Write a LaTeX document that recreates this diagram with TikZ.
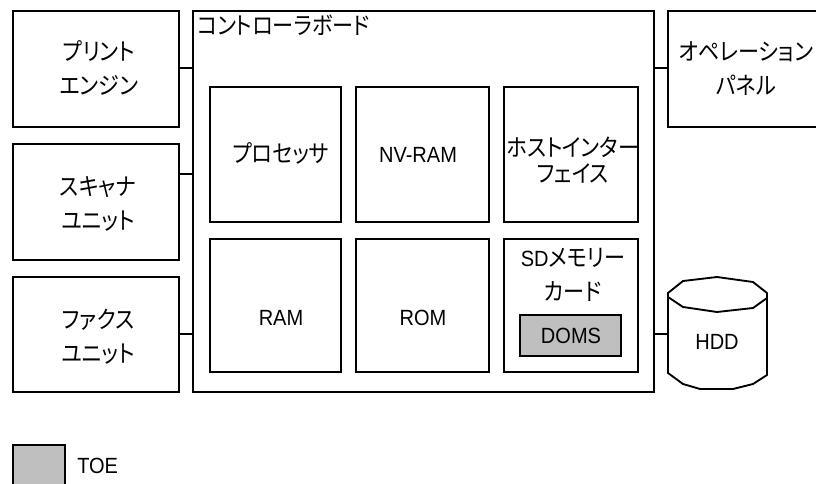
\documentclass[tikz,border=0pt]{standalone}
\usepackage{fontspec}
\setmainfont[FakeStretch=0.91]{Liberation Sans}
\newfontfamily\jpf[RawFeature=+palt,FakeStretch=0.88]{Noto Sans CJK JP}
\newcommand\jp{\jpf\fontsize{18}{25.5}\selectfont}
\begin{document}
\begin{tikzpicture}[x=0.75pt,y=-0.75pt,
  box/.style={draw,line width=1.4pt,inner sep=0pt},
  link/.style={line width=1.2pt},
  lbl/.style={inner sep=0pt,align=center,font=\fontsize{16.5}{25.5}\selectfont},
  lbltight/.style={inner sep=0pt,align=center,font=\fontsize{16.5}{19}\selectfont}]
\useasboundingbox (0,0) rectangle (816,484);
% left boxes
\node[box,minimum width=124.5pt,minimum height=87pt] (pe) at (96,69) {};
\node[box,minimum width=124.5pt,minimum height=87pt] (sc) at (96,202) {};
\node[box,minimum width=124.5pt,minimum height=86.25pt] (fx) at (96,334.5) {};
% controller board
\node[box,minimum width=345.75pt,minimum height=285.75pt] (cb) at (423.5,201.5) {};
\node[lbl,anchor=west] (cbt) at (197,25) {\jp コントローラボード};
% inner boxes
\node[box,minimum width=98.25pt,minimum height=101.25pt] (cpu) at (275.5,154.5) {};
\node[box,minimum width=99.75pt,minimum height=101.25pt] (nv) at (422.5,154.5) {};
\node[box,minimum width=100.5pt,minimum height=101.25pt] (hi) at (571,154.5) {};
\node[box,minimum width=98.25pt,minimum height=99.75pt] (ram) at (275.5,305.5) {};
\node[box,minimum width=99.75pt,minimum height=99.75pt] (rom) at (422.5,305.5) {};
\node[box,minimum width=100.5pt,minimum height=99.75pt] (sd) at (571,305.5) {};
\node[box,fill=black!25,minimum width=75.75pt,minimum height=30.75pt] (doms) at (570.5,335.5) {};
% operation panel
\node[box,minimum width=125pt,minimum height=87pt] (op) at (751,69) {};
% legend
\node[box,fill=black!25,minimum width=39pt,minimum height=39pt] (leg) at (39,471) {};
% labels
\node[lbl] (tpe) at (99,68) {\jp プリント\\\jp エンジン};
\node[lbl] (tsc) at (98,204) {\jp スキャナ\\\jp ユニット};
\node[lbl] (tfx) at (98,336.5) {\jp ファクス\\\jp ユニット};
\node[lbl] (tcpu) at (281,153) {\jp プロセッサ};
\node[lbl] (tnv) at (418,155) {NV-RAM};
\node[lbl,lbltight] (thi) at (573,160) {\jpf\fontsize{18}{19}\selectfont ホストインター\\\jpf\fontsize{18}{19}\selectfont フェイス};
\node[lbl] (tram) at (281,318) {RAM};
\node[lbl] (trom) at (423,318) {ROM};
\node[lbl] (tsd) at (573,275) {SD{\jp メモリー}\\{\jp カード}};
\node[lbl] (tdoms) at (571,335.5) {DOMS};
\node[lbl] (top) at (746,68.5) {\jp オペレーション\\\jp パネル};
\node[lbl,anchor=west] (ttoe) at (77,466) {TOE};
% HDD cylinder
\draw[line width=1.4pt,line join=round]
  (668,297) -- (668,293) -- (683,281) -- (717,277) -- (753,282) -- (767,293) -- (767,298)
  -- (753,308) -- (717,312) -- (683,307) -- cycle;
\draw[line width=1.4pt,line join=round]
  (668,297) -- (668,373) -- (683,384) -- (700,389) -- (733,389) -- (753,384) -- (767,375) -- (767,298);
\node[lbl] (thdd) at (717,342) {HDD};
\coordinate (hddw) at (668,334);
% connectors
\draw[link] (pe.east |- 0,68) -- (cb.west |- 0,68);
\draw[link] (sc.east |- 0,174) -- (cb.west |- 0,174);
\draw[link] (fx.east |- 0,334) -- (cb.west |- 0,334);
\draw[link] (cb.east |- 0,68) -- (op.west |- 0,68);
\draw[link] (cb.east |- hddw) -- (hddw);
\end{tikzpicture}
\end{document}
